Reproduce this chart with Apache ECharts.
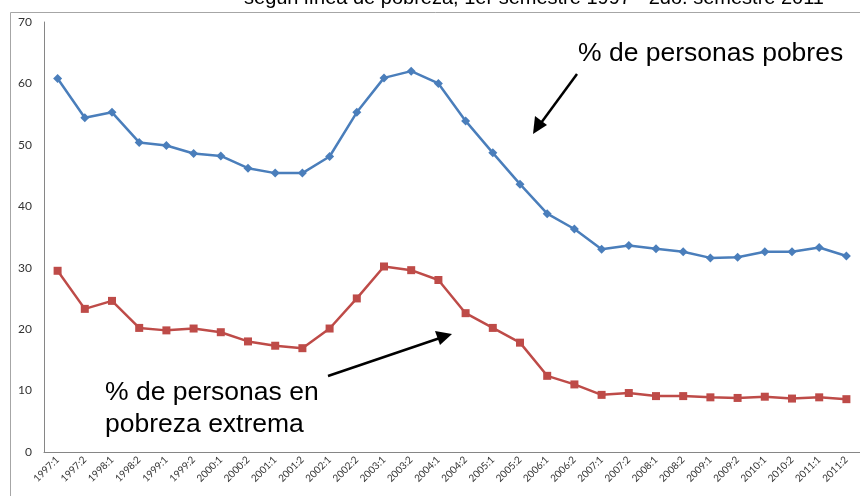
<!DOCTYPE html>
<html>
<head>
<meta charset="utf-8">
<script src="https://cdn.jsdelivr.net/npm/echarts@6/dist/echarts.min.js"></script>
<style>
  html, body { margin: 0; padding: 0; background: #fff; }
  #myChart { width: 860px; height: 496px; }
</style>
</head>
<body>
<div id="myChart"></div>
<script>
  // periodos semestrales
  var periodos = ['1997:1','1997:2','1998:1','1998:2','1999:1','1999:2','2000:1','2000:2',
    '2001:1','2001:2','2002:1','2002:2','2003:1','2003:2','2004:1','2004:2','2005:1','2005:2',
    '2006:1','2006:2','2007:1','2007:2','2008:1','2008:2','2009:1','2009:2','2010:1','2010:2',
    '2011:1','2011:2'];
  // % de personas pobres
  var pobres = [60.8, 54.4, 55.3, 50.4, 49.9, 48.6, 48.2, 46.2, 45.4, 45.4, 48.1, 55.3,
    60.9, 62.0, 60.0, 53.9, 48.7, 43.6, 38.8, 36.3, 33.0, 33.6, 33.1, 32.6, 31.6, 31.7,
    32.6, 32.6, 33.3, 31.9];
  // % de personas en pobreza extrema
  var extrema = [29.5, 23.3, 24.6, 20.2, 19.8, 20.1, 19.5, 18.0, 17.3, 16.9, 20.1, 25.0,
    30.2, 29.6, 28.0, 22.6, 20.2, 17.8, 12.4, 11.0, 9.3, 9.6, 9.1, 9.1, 8.9, 8.8,
    9.0, 8.7, 8.9, 8.6];
  var yTicks = [0, 10, 20, 30, 40, 50, 60, 70];

  var myChart = echarts.init(document.getElementById('myChart'));
  var labelFont = 'Lato, "Open Sans", sans-serif';
  var noteFont = '"Liberation Sans", Arial, sans-serif';

  myChart.setOption({
    animation: false,
    grid: { left: 44, right: 0, top: 22, bottom: 44, containLabel: false },
    xAxis: {
      type: 'category',
      data: periodos,
      boundaryGap: true,
      axisLine: { lineStyle: { color: '#868686', width: 1 } },
      axisTick: { show: false },
      axisLabel: {
        rotate: 45, interval: 0, fontSize: 10, color: '#333',
        fontFamily: labelFont, margin: 6
      },
      splitLine: { show: false }
    },
    yAxis: {
      type: 'value',
      min: yTicks[0],
      max: yTicks[yTicks.length - 1],
      interval: 10,
      axisLine: { show: true, lineStyle: { color: '#868686', width: 1 } },
      axisTick: { show: false },
      axisLabel: { fontSize: 12, color: '#333', fontFamily: labelFont, margin: 12 },
      splitLine: { show: false }
    },
    series: [
      {
        name: '% de personas pobres',
        type: 'line',
        data: pobres,
        symbol: 'diamond',
        symbolSize: 9,
        lineStyle: { color: '#4A7EBB', width: 2.5 },
        itemStyle: { color: '#4A7EBB' }
      },
      {
        name: '% de personas en pobreza extrema',
        type: 'line',
        data: extrema,
        symbol: 'rect',
        symbolSize: 8,
        lineStyle: { color: '#BE4B48', width: 2.5 },
        itemStyle: { color: '#BE4B48' }
      }
    ],
    graphic: [
      // marco del area del grafico
      { type: 'rect', shape: { x: 10.5, y: 12.5, width: 900, height: 600 },
        style: { fill: 'none', stroke: '#A6A6A6', lineWidth: 1 }, silent: true, z: -1 },
      // titulo (recortado arriba)
      { type: 'text', x: 534, y: 8,
        style: { text: 'según línea de pobreza, 1er semestre 1997 - 2do. semestre 2011',
          fill: '#000', font: '20px ' + noteFont, textAlign: 'center', textVerticalAlign: 'bottom' } },
      { type: 'text', x: 578, y: 40,
        style: { text: '% de personas pobres', fill: '#000', font: '26.5px ' + noteFont } },
      { type: 'text', x: 105, y: 377,
        style: { text: '% de personas en\npobreza extrema', fill: '#000', font: '26.5px ' + noteFont,
          lineHeight: 32 } },
      // flechas
      { type: 'line', shape: { x1: 577, y1: 74, x2: 541, y2: 123 },
        style: { stroke: '#000', lineWidth: 2.5 } },
      { type: 'polygon', shape: { points: [[533, 134], [535, 116], [547, 125]] },
        style: { fill: '#000' } },
      { type: 'line', shape: { x1: 328, y1: 376, x2: 440, y2: 338 },
        style: { stroke: '#000', lineWidth: 2.5 } },
      { type: 'polygon', shape: { points: [[452, 334], [435, 331], [440, 345]] },
        style: { fill: '#000' } }
    ]
  });
</script>
</body>
</html>
